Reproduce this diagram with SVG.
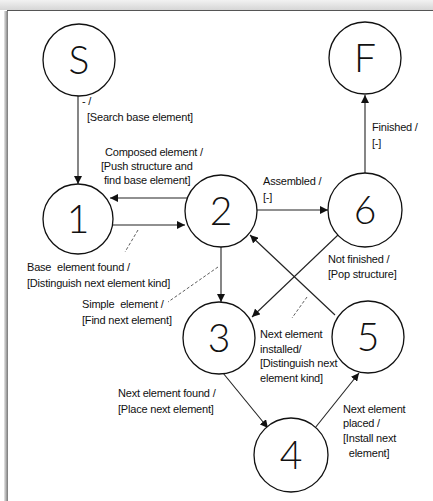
<svg xmlns="http://www.w3.org/2000/svg" width="433" height="501" viewBox="0 0 433 501">
<defs>
<linearGradient id="bar" x1="0" y1="0" x2="0" y2="1">
<stop offset="0" stop-color="#f2f2f2"/>
<stop offset="1" stop-color="#d6d6d6"/>
</linearGradient>
<linearGradient id="side" x1="0" y1="0" x2="1" y2="0">
<stop offset="0" stop-color="#e8e8e8"/>
<stop offset="1" stop-color="#777"/>
</linearGradient>
<marker id="ah" viewBox="0 0 10 10" refX="10" refY="5" markerWidth="8" markerHeight="8" markerUnits="userSpaceOnUse" orient="auto">
<path d="M0,0 L10,5 L0,10 Z" fill="#111"/>
</marker>
</defs>
<style>
.node circle{fill:#fff;stroke:#111;stroke-width:1.3}
.node text{font-family:"Lato","Liberation Sans",sans-serif;font-weight:300;font-size:39px;fill:#111;text-anchor:middle}
.edge{stroke:#222;stroke-width:1.1;fill:none;marker-end:url(#ah)}
.lead{stroke:#333;stroke-width:0.8;stroke-dasharray:3,2;fill:none}
.lbl{font-family:"Liberation Sans",Arial,sans-serif;font-size:11px;fill:#111;letter-spacing:-0.2px;white-space:pre}
</style>
<rect x="0" y="0" width="433" height="501" fill="#fff"/>
<rect x="0" y="0" width="433" height="10" fill="url(#bar)"/>
<line x1="7" y1="10.5" x2="433" y2="10.5" stroke="#555" stroke-width="1"/>
<rect x="4" y="11" width="4" height="490" fill="url(#side)"/>

<g id="connectors">
<line class="edge" x1="78" y1="96" x2="78" y2="184"/>
<line class="edge" x1="187" y1="198" x2="110" y2="198"/>
<line class="edge" x1="113" y1="225" x2="185" y2="225"/>
<line class="edge" x1="257" y1="210" x2="328" y2="210"/>
<line class="edge" x1="365" y1="173" x2="365" y2="95"/>
<line class="edge" x1="221" y1="247" x2="221" y2="302"/>
<line class="edge" x1="338" y1="235" x2="252" y2="317"/>
<line class="edge" x1="335" y1="315" x2="250" y2="235"/>
<line class="edge" x1="223" y1="373" x2="268" y2="428"/>
<line class="edge" x1="315" y1="428" x2="359" y2="373"/>
<line class="lead" x1="138" y1="230" x2="125" y2="252"/>
<line class="lead" x1="218" y1="267" x2="168" y2="302"/>
<line class="lead" x1="307" y1="297" x2="292" y2="318"/>
</g>

<g id="labels">
<text class="lbl" x="82" y="105">- /</text>
<text class="lbl" x="87" y="121">[Search base element]</text>
<text class="lbl" x="105" y="156">Composed element /</text>
<text class="lbl" x="101" y="170">[Push structure and</text>
<text class="lbl" x="104" y="184">find base element]</text>
<text class="lbl" x="27" y="271">Base  element found /</text>
<text class="lbl" x="27" y="287">[Distinguish next element kind]</text>
<text class="lbl" x="82" y="308">Simple  element /</text>
<text class="lbl" x="82" y="324">[Find next element]</text>
<text class="lbl" x="263" y="185">Assembled /</text>
<text class="lbl" x="263" y="201">[-]</text>
<text class="lbl" x="372" y="131">Finished /</text>
<text class="lbl" x="372" y="147">[-]</text>
<text class="lbl" x="328" y="263">Not finished /</text>
<text class="lbl" x="328" y="278">[Pop structure]</text>
<text class="lbl" x="260" y="338">Next element</text>
<text class="lbl" x="260" y="353">installed/</text>
<text class="lbl" x="260" y="367">[Distinguish next</text>
<text class="lbl" x="260" y="382">element kind]</text>
<text class="lbl" x="118" y="397">Next element found /</text>
<text class="lbl" x="118" y="413">[Place next element]</text>
<text class="lbl" x="343" y="413">Next element</text>
<text class="lbl" x="343" y="427">placed /</text>
<text class="lbl" x="343" y="442">[Install next</text>
<text class="lbl" x="343" y="457">  element]</text>
</g>

<g id="node-S" class="node"><circle cx="79" cy="60" r="36"/><text x="79" y="74">S</text></g>
<g id="node-F" class="node"><circle cx="365" cy="58" r="36"/><text x="365" y="72">F</text></g>
<g id="node-1" class="node"><circle cx="78" cy="219" r="35"/><text x="78" y="233">1</text></g>
<g id="node-2" class="node"><circle cx="221" cy="211" r="36"/><text x="221" y="225">2</text></g>
<g id="node-6" class="node"><circle cx="365" cy="210" r="37"/><text x="365" y="224">6</text></g>
<g id="node-3" class="node"><circle cx="219" cy="338" r="36"/><text x="219" y="352">3</text></g>
<g id="node-5" class="node"><circle cx="368" cy="337" r="36"/><text x="368" y="351">5</text></g>
<g id="node-4" class="node"><circle cx="291" cy="455" r="37"/><text x="291" y="469">4</text></g>
</svg>
